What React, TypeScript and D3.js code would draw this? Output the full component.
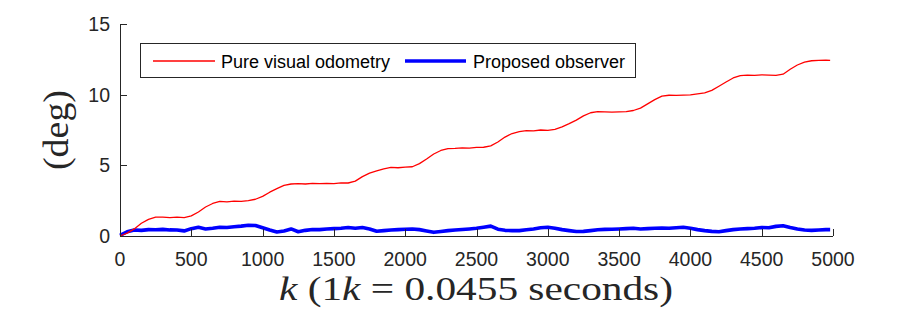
import React from "react";
import * as d3 from "d3";

const kSteps: number[] = [
  0, 50, 100, 150, 200, 250, 300, 350, 400, 450, 500, 550, 600, 650, 700, 750, 800, 850, 900, 950,
  1000, 1050, 1100, 1150, 1200, 1250, 1300, 1350, 1400, 1450, 1500, 1550, 1600, 1650, 1700, 1750, 1800, 1850, 1900, 1950,
  2000, 2050, 2100, 2150, 2200, 2250, 2300, 2350, 2400, 2450, 2500, 2550, 2600, 2650, 2700, 2750, 2800, 2850, 2900, 2950,
  3000, 3050, 3100, 3150, 3200, 3250, 3300, 3350, 3400, 3450, 3500, 3550, 3600, 3650, 3700, 3750, 3800, 3850, 3900, 3950,
  4000, 4050, 4100, 4150, 4200, 4250, 4300, 4350, 4400, 4450, 4500, 4550, 4600, 4650, 4700, 4750, 4800, 4850, 4900, 4950, 4980,
];

const visualOdometry: number[] = [
  0.0, 0.2, 0.5, 0.9, 1.18, 1.33, 1.34, 1.3, 1.33, 1.3, 1.42, 1.7, 2.05, 2.3, 2.45, 2.42, 2.47, 2.45, 2.5, 2.6,
  2.8, 3.1, 3.35, 3.58, 3.68, 3.7, 3.68, 3.72, 3.7, 3.72, 3.7, 3.76, 3.75, 3.88, 4.2, 4.45, 4.6, 4.75, 4.85, 4.83,
  4.88, 4.9, 5.12, 5.45, 5.8, 6.05, 6.18, 6.2, 6.24, 6.22, 6.27, 6.28, 6.38, 6.65, 7.0, 7.25, 7.38, 7.45, 7.44, 7.5,
  7.48, 7.55, 7.72, 7.95, 8.2, 8.5, 8.72, 8.8, 8.78, 8.76, 8.78, 8.8, 8.88, 9.05, 9.35, 9.65, 9.9, 9.96, 9.95, 9.97,
  9.98, 10.05, 10.12, 10.3, 10.6, 10.9, 11.18, 11.35, 11.38, 11.36, 11.4, 11.38, 11.37, 11.45, 11.8, 12.1, 12.3, 12.4, 12.42, 12.45, 12.43,
];

const proposedObserver: number[] = [
  0.05, 0.3, 0.42, 0.4, 0.45, 0.44, 0.47, 0.43, 0.42, 0.36, 0.52, 0.62, 0.5, 0.55, 0.62, 0.6, 0.66, 0.7, 0.76, 0.74,
  0.58, 0.42, 0.28, 0.36, 0.5, 0.3, 0.4, 0.46, 0.45, 0.5, 0.52, 0.55, 0.6, 0.55, 0.6, 0.5, 0.34, 0.38, 0.42, 0.45,
  0.48, 0.5, 0.45, 0.36, 0.26, 0.32, 0.38, 0.42, 0.46, 0.5, 0.55, 0.62, 0.7, 0.48, 0.4, 0.38, 0.38, 0.44, 0.5, 0.58,
  0.62, 0.55, 0.45, 0.38, 0.32, 0.33, 0.38, 0.44, 0.47, 0.48, 0.5, 0.52, 0.55, 0.5, 0.52, 0.55, 0.56, 0.55, 0.58, 0.62,
  0.55, 0.45, 0.38, 0.33, 0.3, 0.38, 0.45, 0.5, 0.52, 0.55, 0.6, 0.58, 0.68, 0.72, 0.6, 0.5, 0.42, 0.4, 0.42, 0.45, 0.45,
];

const xTicks: number[] = [0, 500, 1000, 1500, 2000, 2500, 3000, 3500, 4000, 4500, 5000];
const yTicks: number[] = [0, 5, 10, 15];
const seriesNames: string[] = ["Pure visual odometry", "Proposed observer"];

const W = 921;
const H = 319;
const AX = "#262626";
const SANS = "'Liberation Sans', Arial, Helvetica, sans-serif";
const SERIF = "'Liberation Serif', 'DejaVu Serif', serif";

export default function App() {
  const x = d3.scaleLinear().domain([0, 5000]).range([120, 833]);
  const y = d3.scaleLinear().domain([0, 15]).range([236, 24]);

  const line = d3
    .line<number>()
    .x((_, i) => x(kSteps[i]))
    .y((d) => y(d));

  return (
    <svg
      width={W}
      height={H}
      viewBox={`0 0 ${W} ${H}`}
      style={{ position: "absolute", left: 0, top: 0, background: "#fff" }}
    >
      <rect x={0} y={0} width={W} height={H} fill="#fff" />

      {/* data */}
      <path d={line(proposedObserver) || ""} fill="none" stroke="#0000ff" strokeWidth={3.6} strokeLinejoin="round" />
      <path d={line(visualOdometry) || ""} fill="none" stroke="#ff0000" strokeWidth={1.3} strokeLinejoin="round" />

      {/* axes */}
      <line x1={x(0)} x2={x(5000)} y1={y(0) + 0.5} y2={y(0) + 0.5} stroke={AX} strokeWidth={1} />
      <line x1={x(0) + 0.5} x2={x(0) + 0.5} y1={y(15)} y2={y(0) + 1} stroke={AX} strokeWidth={1} />

      {xTicks.map((t) => (
        <g key={"xt" + t}>
          <line x1={Math.round(x(t)) + 0.5} x2={Math.round(x(t)) + 0.5} y1={y(0)} y2={y(0) - 7} stroke={AX} strokeWidth={1} />
          <text x={x(t)} y={265.5} textAnchor="middle" fontFamily={SANS} fontSize={19.5} fill={AX}>
            {t}
          </text>
        </g>
      ))}
      {yTicks.map((t) => (
        <g key={"yt" + t}>
          <line x1={x(0)} x2={x(0) + 7} y1={Math.round(y(t)) + 0.5} y2={Math.round(y(t)) + 0.5} stroke={AX} strokeWidth={1} />
          <text x={110} y={y(t) + 7} textAnchor="end" fontFamily={SANS} fontSize={19.5} fill={AX}>
            {t}
          </text>
        </g>
      ))}

      {/* axis labels */}
      <text x={476} y={300} textAnchor="middle" fontFamily={SERIF} fontSize={34} fill={AX} textLength={394} lengthAdjust="spacingAndGlyphs">
        <tspan fontStyle="italic">k</tspan>
        <tspan> (1</tspan>
        <tspan fontStyle="italic">k</tspan>
        <tspan> = 0.0455 seconds)</tspan>
      </text>
      <text
        transform={`translate(68, 130) rotate(-90)`}
        textAnchor="middle"
        fontFamily={SERIF}
        fontSize={36}
        fill={AX}
        textLength={80}
        lengthAdjust="spacingAndGlyphs"
      >
        (deg)
      </text>

      {/* legend */}
      <rect x={140.5} y={43.5} width={495} height={34} fill="#fff" stroke={AX} strokeWidth={1} />
      <line x1={153} x2={215} y1={61} y2={61} stroke="#ff0000" strokeWidth={1.3} />
      <text x={221} y={67.5} fontFamily={SANS} fontSize={18} fill="#000">
        {seriesNames[0]}
      </text>
      <line x1={405} x2={466} y1={61} y2={61} stroke="#0000ff" strokeWidth={3.6} />
      <text x={473} y={67.5} fontFamily={SANS} fontSize={18} fill="#000">
        {seriesNames[1]}
      </text>
    </svg>
  );
}
